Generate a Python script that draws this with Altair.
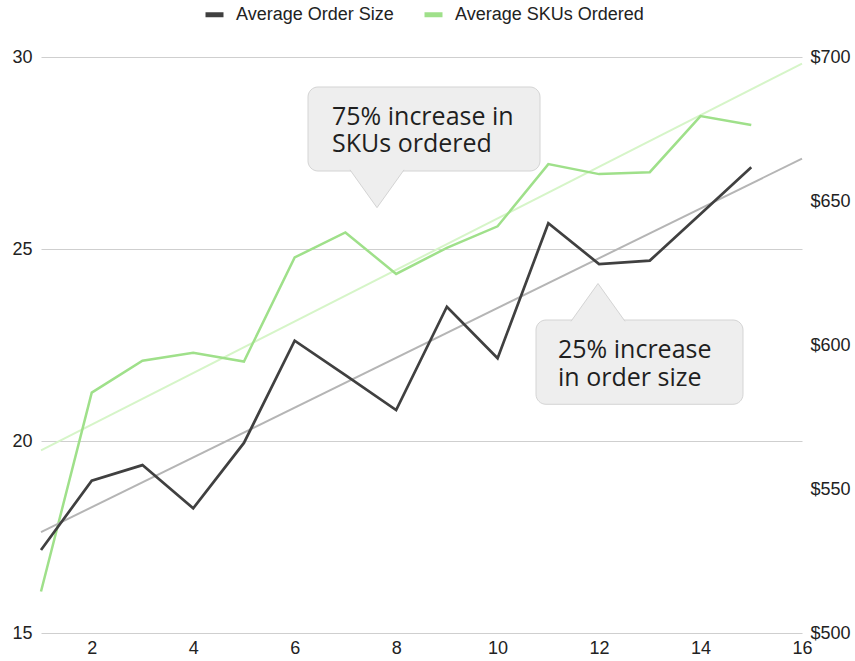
import altair as alt
import pandas as pd

# ---------------- data ----------------
x_vals = list(range(1, 16))
skus_ordered = [16.08, 21.26, 22.09, 22.30, 22.07, 24.78, 25.43, 24.35, 25.03, 25.59,
                27.21, 26.95, 27.00, 28.46, 28.23]
order_size = [528.8, 552.9, 558.3, 543.3, 566.0, 601.5, 589.5, 577.4, 613.3, 595.4,
              642.3, 628.1, 629.3, 645.5, 661.7]

series_names = ["Average Order Size", "Average SKUs Ordered"]
series_colors = ["#404040", "#9fe08a"]
trend_colors = ["#b5b5b5", "#d6f5c8"]

x_ticks = [2, 4, 6, 8, 10, 12, 14, 16]
left_ticks = [15, 20, 25, 30]
right_ticks = [500, 550, 600, 650, 700]

# callouts (data units: x on the x axis, y on the left axis)
callout_text = ["75% increase in\nSKUs ordered", "25% increase\nin order size"]
callout_box_x1 = [6.263, 10.757]
callout_box_x2 = [10.836, 14.837]
callout_box_ytop = [29.219, 23.151]
callout_box_ybot = [27.031, 20.956]
callout_text_x = [6.736, 11.191]
callout_text_y = [28.242, 22.154]
callout_tip_x = [7.623, 11.979]
callout_tip_y = [26.569, 23.609]
callout_dir = ["down", "up"]

# ---------------- frames ----------------
sku_df = pd.DataFrame({"x": x_vals, "value": skus_ordered, "series": series_names[1]})
ord_df = pd.DataFrame({"x": x_vals, "value": order_size, "series": series_names[0]})
ann_df = pd.DataFrame({
    "bx1": callout_box_x1, "bx2": callout_box_x2,
    "by1": callout_box_ytop, "by2": callout_box_ybot,
    "tx": callout_text_x, "ty": callout_text_y, "text": callout_text,
    "px": callout_tip_x, "py": callout_tip_y, "dir": callout_dir,
})

FONT = "Liberation Sans"
x_scale = alt.Scale(domain=[1, 16], nice=False, zero=False)
left_scale = alt.Scale(domain=[15, 30], nice=False, zero=False)
right_scale = alt.Scale(domain=[500, 700], nice=False, zero=False)

x_enc = alt.X("x:Q", scale=x_scale, title=None,
              axis=alt.Axis(values=x_ticks, grid=False, domain=False, ticks=False,
                            labelPadding=6, labelFlush=False, title=None))

color_enc = alt.Color(
    "series:N",
    scale=alt.Scale(domain=series_names, range=series_colors),
    legend=alt.Legend(title=None, orient="none", legendX=162, legendY=-54,
                      direction="horizontal", symbolType="stroke", symbolSize=324,
                      symbolStrokeWidth=5, labelFontSize=18, labelFont=FONT,
                      labelColor="#222222", labelOffset=10, columnPadding=20,
                      labelLimit=400),
)

# SKUs (left axis)
sku_base = alt.Chart(sku_df)
sku_trend = sku_base.transform_regression("x", "value", extent=[1, 16]).mark_line(
    color=trend_colors[1], strokeWidth=2).encode(
    x=alt.X("x:Q", title=None), y=alt.Y("value:Q", title=None))
sku_line = sku_base.mark_line(strokeWidth=2.5).encode(
    x=x_enc,
    y=alt.Y("value:Q", scale=left_scale, title=None,
            axis=alt.Axis(orient="left", values=left_ticks, grid=True, gridColor="#cfcfcf",
                          gridWidth=1, domain=False, ticks=False, labelPadding=9)),
    color=color_enc,
)
sku_layer = alt.layer(sku_trend, sku_line)

# Order size (right axis)
ord_base = alt.Chart(ord_df)
ord_trend = ord_base.transform_regression("x", "value", extent=[1, 16]).mark_line(
    color=trend_colors[0], strokeWidth=2).encode(
    x=alt.X("x:Q", title=None), y=alt.Y("value:Q", title=None))
ord_line = ord_base.mark_line(strokeWidth=2.7).encode(
    x=alt.X("x:Q", title=None),
    y=alt.Y("value:Q", scale=right_scale, title=None,
            axis=alt.Axis(orient="right", values=right_ticks, format="$,.0f", grid=False,
                          domain=False, ticks=False, labelPadding=8)),
    color=color_enc,
)
ord_layer = alt.layer(ord_trend, ord_line)

# Callouts
ann_base = alt.Chart(ann_df)
boxes = ann_base.mark_rect(cornerRadius=10, fill="#eeeeee", stroke="#d4d4d4",
                           strokeWidth=1).encode(
    x=alt.X("bx1:Q", title=None), x2="bx2:Q",
    y=alt.Y("by1:Q", scale=left_scale, axis=None), y2="by2:Q")
tri_down = ann_base.transform_filter(alt.datum.dir == "down").mark_point(
    shape="M-1,-0.7L0,0.7L1,-0.7", size=2916, filled=True, fill="#eeeeee",
    stroke="#d4d4d4", strokeWidth=1, opacity=1).encode(
    x=alt.X("px:Q", title=None), y=alt.Y("py:Q", axis=None))
tri_up = ann_base.transform_filter(alt.datum.dir == "up").mark_point(
    shape="M-1,0.7L0,-0.7L1,0.7", size=2916, filled=True, fill="#eeeeee",
    stroke="#d4d4d4", strokeWidth=1, opacity=1).encode(
    x=alt.X("px:Q", title=None), y=alt.Y("py:Q", axis=None))
texts = ann_base.mark_text(align="left", baseline="alphabetic", font="Open Sans",
                           fontSize=25, lineHeight=27.5, lineBreak="\n",
                           color="#1f1f1f").encode(
    x=alt.X("tx:Q", title=None), y=alt.Y("ty:Q", axis=None), text="text:N")
ann_layer = alt.layer(boxes, tri_down, tri_up, texts)

chart = alt.layer(sku_layer, ord_layer, ann_layer).resolve_scale(
    y="independent"
).properties(
    width=761, height=576,
    autosize=alt.AutoSizeParams(type="none"),
    padding={"left": 41, "top": 57, "right": 53, "bottom": 28},
).configure_view(stroke=None).configure_axis(
    labelFont=FONT, labelFontSize=18, labelColor="#222222"
)

chart.save("out.html", embed_options={"renderer": "svg", "actions": False})
